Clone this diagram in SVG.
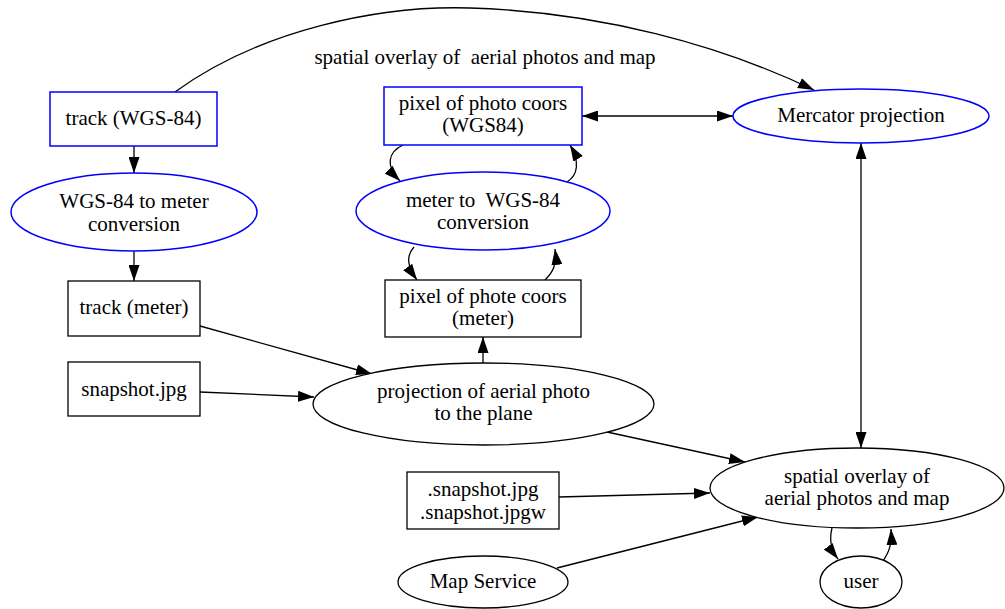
<svg xmlns="http://www.w3.org/2000/svg" width="1005" height="609" viewBox="0 0 1005 609">
<style>
text{font-size:21px;fill:#000;text-anchor:middle;white-space:pre}
.b{fill:#fff;stroke:#0000ff;stroke-width:1.5}
.k{fill:#fff;stroke:#000;stroke-width:1.3}
.e{fill:none;stroke:#000;stroke-width:1.3}
</style>
<defs>
<marker id="ah" viewBox="0 0 16 11" refX="16" refY="5.5" markerWidth="16" markerHeight="11" markerUnits="userSpaceOnUse" orient="auto-start-reverse">
<path d="M0,0 L16,5.5 L0,11 z" fill="#000"/>
</marker>
</defs>
<rect width="1005" height="609" fill="#fff"/>
<g id="connectors">
<path class="e" d="M175,92 C260,30 380,5 470,8 C600,12 720,45 814,90" marker-end="url(#ah)"/>
<path class="e" d="M134,146 L134,173" marker-end="url(#ah)"/>
<path class="e" d="M134,251 L134,281" marker-end="url(#ah)"/>
<path class="e" d="M200,326 L372,374" marker-end="url(#ah)"/>
<path class="e" d="M200,392 L314,397" marker-end="url(#ah)"/>
<path class="e" d="M483,363 L483,337" marker-end="url(#ah)"/>
<path class="e" d="M414,247 C406,256 407,266 417,280" marker-end="url(#ah)"/>
<path class="e" d="M545,280 C553,272 557,265 555,249" marker-end="url(#ah)"/>
<path class="e" d="M403,145 C388,152 385,166 400,181" marker-end="url(#ah)"/>
<path class="e" d="M567,182 C578,175 580,162 570,145" marker-end="url(#ah)"/>
<path class="e" d="M582,116 L733,116" marker-start="url(#ah)" marker-end="url(#ah)"/>
<path class="e" d="M861,143 L861,448" marker-start="url(#ah)" marker-end="url(#ah)"/>
<path class="e" d="M607,432 L745,462" marker-end="url(#ah)"/>
<path class="e" d="M559,497 L710,493" marker-end="url(#ah)"/>
<path class="e" d="M557,568 L758,517" marker-end="url(#ah)"/>
<path class="e" d="M832,528 C829,540 831,550 838,559" marker-end="url(#ah)"/>
<path class="e" d="M883,561 C889,552 892,545 891,529" marker-end="url(#ah)"/>
</g>
<g font-family="'Liberation Serif', 'DejaVu Serif', serif">
<g id="edge_label"><text x="485" y="64">spatial overlay of  aerial photos and map</text></g>
<g id="track_wgs84"><rect class="b" x="50" y="92" width="167" height="54"/><text x="133.5" y="125">track (WGS-84)</text></g>
<g id="wgs84_to_meter"><ellipse class="b" cx="134" cy="212" rx="123" ry="39"/><text x="134" y="208">WGS-84 to meter</text><text x="134" y="231">conversion</text></g>
<g id="track_meter"><rect class="k" x="68" y="281" width="132" height="55"/><text x="134" y="314">track (meter)</text></g>
<g id="snapshot"><rect class="k" x="68" y="362" width="132" height="54"/><text x="134" y="396">snapshot.jpg</text></g>
<g id="pixel_wgs84"><rect class="b" x="384" y="87" width="198" height="58"/><text x="483" y="110">pixel of photo coors</text><text x="483" y="132">(WGS84)</text></g>
<g id="meter_to_wgs84"><ellipse class="b" cx="483" cy="211" rx="127" ry="39"/><text x="483" y="207">meter to  WGS-84</text><text x="483" y="229">conversion</text></g>
<g id="pixel_meter"><rect class="k" x="385" y="280" width="196" height="57"/><text x="483" y="303">pixel of phote coors</text><text x="483" y="325">(meter)</text></g>
<g id="projection"><ellipse class="k" cx="483.5" cy="404" rx="170.5" ry="41"/><text x="483.5" y="398">projection of aerial photo</text><text x="483.5" y="420">to the plane</text></g>
<g id="snapshot_out"><rect class="k" x="407" y="472" width="152" height="57"/><text x="483" y="496">.snapshot.jpg</text><text x="483" y="519">.snapshot.jpgw</text></g>
<g id="map_service"><ellipse class="k" cx="483" cy="582" rx="85" ry="26"/><text x="483" y="588">Map Service</text></g>
<g id="mercator"><ellipse class="b" cx="861" cy="116" rx="128" ry="27"/><text x="861" y="122">Mercator projection</text></g>
<g id="overlay"><ellipse class="k" cx="857" cy="488" rx="147" ry="40"/><text x="857" y="483">spatial overlay of</text><text x="857" y="505">aerial photos and map</text></g>
<g id="user"><ellipse class="k" cx="861" cy="582" rx="41" ry="26"/><text x="861" y="588">user</text></g>
</g>
</svg>
